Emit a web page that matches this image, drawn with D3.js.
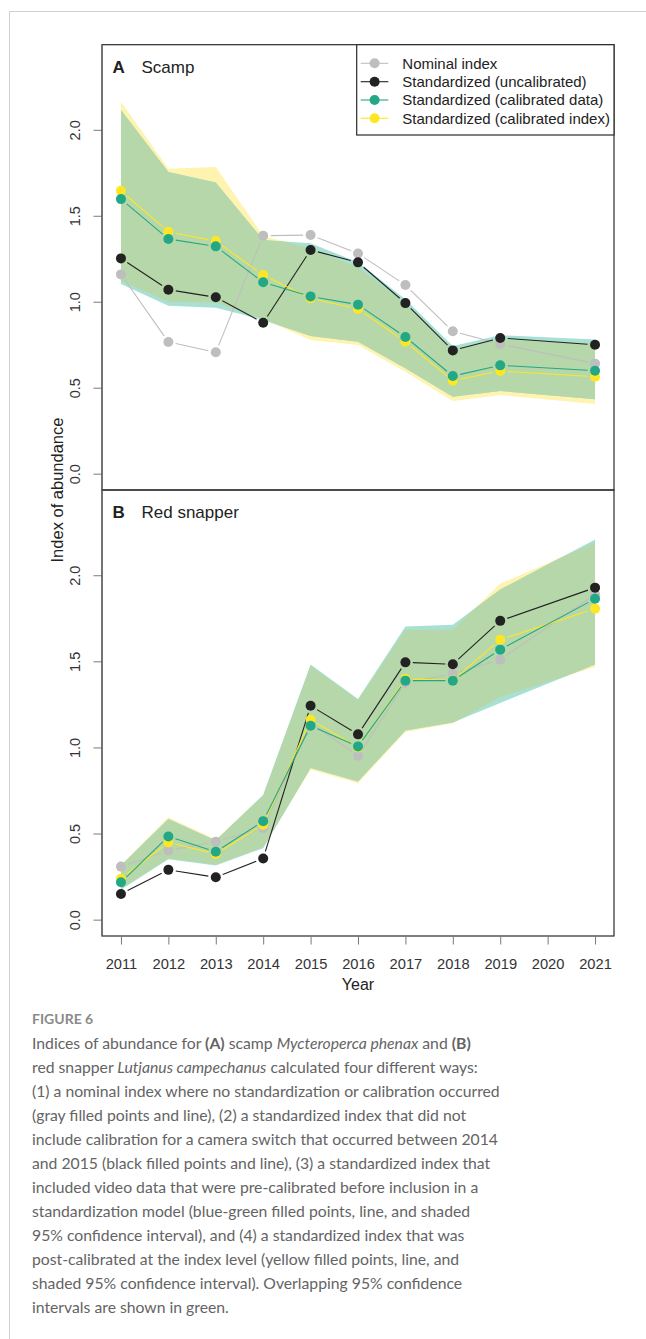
<!DOCTYPE html>
<html>
<head>
<meta charset="utf-8">
<script src="https://cdn.jsdelivr.net/npm/d3@7"></script>
<style>
  body { margin: 0; background: #fff; }
  svg { display: block; }
</style>
</head>
<body>
<svg id="fig" width="646" height="1339"></svg>
<script>
// Survey years with an index value (no survey in 2020)
const years = [2011, 2012, 2013, 2014, 2015, 2016, 2017, 2018, 2019, 2021];
const tickYears = [2011, 2012, 2013, 2014, 2015, 2016, 2017, 2018, 2019, 2020, 2021];
const yTicks = [0, 0.5, 1, 1.5, 2];

// (A) Scamp
const scampNominal    = [1.159, 0.766, 0.706, 1.384, 1.388, 1.281, 1.097, 0.828, 0.754, 0.640];
const scampUncal      = [1.252, 1.070, 1.026, 0.878, 1.301, 1.229, 0.992, 0.717, 0.789, 0.750];
const scampCalData    = [1.597, 1.365, 1.322, 1.113, 1.031, 0.983, 0.795, 0.568, 0.630, 0.599];
const scampCalIndex   = [1.645, 1.407, 1.353, 1.155, 1.020, 0.958, 0.767, 0.541, 0.597, 0.564];
const scampCalDataLo  = [1.103, 0.977, 0.965, 0.894, 0.800, 0.767, 0.613, 0.448, 0.481, 0.433];
const scampCalDataHi  = [2.115, 1.754, 1.694, 1.359, 1.340, 1.230, 1.014, 0.742, 0.805, 0.781];
const scampCalIndexLo = [1.122, 1.000, 0.994, 0.900, 0.777, 0.748, 0.593, 0.423, 0.458, 0.405];
const scampCalIndexHi = [2.163, 1.773, 1.783, 1.382, 1.310, 1.200, 0.990, 0.723, 0.781, 0.758];

// (B) Red snapper
const snapperNominal    = [0.308, 0.401, 0.453, 0.531, 1.142, 0.952, 1.374, 1.427, 1.510, 1.888];
const snapperUncal      = [0.149, 0.289, 0.246, 0.355, 1.242, 1.076, 1.494, 1.483, 1.735, 1.928];
const snapperCalData    = [0.217, 0.483, 0.394, 0.572, 1.126, 1.006, 1.388, 1.388, 1.568, 1.863];
const snapperCalIndex   = [0.237, 0.448, 0.382, 0.551, 1.161, 1.000, 1.398, 1.390, 1.626, 1.806];
const snapperCalDataLo  = [0.173, 0.351, 0.314, 0.415, 0.880, 0.802, 1.099, 1.145, 1.258, 1.481];
const snapperCalDataHi  = [0.315, 0.585, 0.460, 0.725, 1.481, 1.281, 1.703, 1.713, 1.917, 2.208];
const snapperCalIndexLo = [0.180, 0.355, 0.320, 0.420, 0.872, 0.792, 1.090, 1.140, 1.293, 1.467];
const snapperCalIndexHi = [0.318, 0.595, 0.465, 0.720, 1.475, 1.275, 1.684, 1.684, 1.950, 2.190];

const seriesNames = ["Nominal index", "Standardized (uncalibrated)",
                     "Standardized (calibrated data)", "Standardized (calibrated index)"];
const seriesColors = ["#bebebe", "#222222", "#22a884", "#fde725"];
const bandYellow = "#fff3b0", bandTeal = "#a8e1d4", bandGreen = "#b6d7a9";

const svg = d3.select("#fig");
svg.append("rect").attr("width", 646).attr("height", 1339).attr("fill", "#fff");

// page frame
svg.append("path").attr("d", "M9.5,1339 V11.5 H646")
  .attr("fill", "none").attr("stroke", "#cfcfcf").attr("stroke-width", 1);

const left = 102, right = 614;
const x = d3.scaleLinear().domain([2010.6, 2021.4]).range([left, right]);
const yDomain = [-0.095, 2.495];

const panels = [
  { letter: "A", name: "Scamp", top: 44.7, bottom: 490,
    nominal: scampNominal, uncal: scampUncal, calData: scampCalData, calIndex: scampCalIndex,
    dLo: scampCalDataLo, dHi: scampCalDataHi, iLo: scampCalIndexLo, iHi: scampCalIndexHi },
  { letter: "B", name: "Red snapper", top: 490, bottom: 936,
    nominal: snapperNominal, uncal: snapperUncal, calData: snapperCalData, calIndex: snapperCalIndex,
    dLo: snapperCalDataLo, dHi: snapperCalDataHi, iLo: snapperCalIndexLo, iHi: snapperCalIndexHi }
];

const font = "'Liberation Sans', Arial, sans-serif";
const gap = 7.5;

panels.forEach((p, pi) => {
  const y = d3.scaleLinear().domain(yDomain).range([p.bottom, p.top]);
  const g = svg.append("g");

  const area = d3.area().x(d => x(d.year)).y0(d => y(d.lo)).y1(d => y(d.hi));
  const idxBand = years.map((yr, i) => ({ year: yr, lo: p.iLo[i], hi: p.iHi[i] }));
  const datBand = years.map((yr, i) => ({ year: yr, lo: p.dLo[i], hi: p.dHi[i] }));

  const clipId = "idxclip" + pi;
  g.append("clipPath").attr("id", clipId).append("path").attr("d", area(idxBand));

  g.append("path").attr("d", area(idxBand)).attr("fill", bandYellow);
  g.append("path").attr("d", area(datBand)).attr("fill", bandTeal);
  g.append("path").attr("d", area(datBand)).attr("fill", bandGreen)
    .attr("clip-path", `url(#${clipId})`);

  // points joined by lines that stop short of each point
  const series = [p.nominal, p.uncal, p.calIndex, p.calData];
  const colors = [seriesColors[0], seriesColors[1], seriesColors[3], seriesColors[2]];
  series.forEach((vals, si) => {
    const pts = years.map((yr, i) => [x(yr), y(vals[i])]);
    const segs = d3.pairs(pts).map(([a, b]) => {
      const dx = b[0] - a[0], dy = b[1] - a[1];
      const len = Math.hypot(dx, dy);
      if (len <= 2 * gap) return null;
      const ux = dx / len, uy = dy / len;
      return [a[0] + ux * gap, a[1] + uy * gap, b[0] - ux * gap, b[1] - uy * gap];
    }).filter(Boolean);
    g.selectAll(null).data(segs).join("line")
      .attr("x1", d => d[0]).attr("y1", d => d[1])
      .attr("x2", d => d[2]).attr("y2", d => d[3])
      .attr("stroke", colors[si]).attr("stroke-width", 1.1);
    g.selectAll(null).data(pts).join("circle")
      .attr("cx", d => d[0]).attr("cy", d => d[1]).attr("r", 5)
      .attr("fill", colors[si]);
  });

  // y axis
  const yAxis = g.append("g").attr("transform", `translate(${left},0)`)
    .call(d3.axisLeft(y).tickValues(yTicks).tickFormat(d3.format(".1f")).tickSize(8.5).tickPadding(0));
  yAxis.select(".domain").remove();
  yAxis.selectAll(".tick line").attr("stroke", "#7a7a7a");
  yAxis.selectAll(".tick text")
    .attr("transform", "rotate(-90)")
    .attr("x", 0).attr("y", -22).attr("dy", 0)
    .attr("text-anchor", "middle")
    .attr("font-family", font).attr("font-size", 14.5).attr("fill", "#333");

  // panel frame
  g.append("rect").attr("x", left).attr("y", p.top)
    .attr("width", right - left).attr("height", p.bottom - p.top)
    .attr("fill", "none").attr("stroke", "#2a2a2a").attr("stroke-width", 1.2);
  g.append("line").attr("x1", left).attr("x2", left).attr("y1", p.top).attr("y2", p.bottom)
    .attr("stroke", "#6e6e6e").attr("stroke-width", 1.2);

  // panel title
  const t = g.append("text").attr("x", 112.5).attr("y", p.top + 28)
    .attr("font-family", font).attr("font-size", 17).attr("fill", "#222");
  t.append("tspan").attr("font-weight", "bold").text(p.letter);
  t.append("tspan").attr("x", 141.5).text(p.name);

  if (pi === 1) {
    const xAxis = g.append("g").attr("transform", `translate(0,${p.bottom})`)
      .call(d3.axisBottom(x).tickValues(tickYears).tickFormat(d3.format("d")).tickSize(8.5).tickPadding(14));
    xAxis.select(".domain").remove();
    xAxis.selectAll(".tick line").attr("stroke", "#7a7a7a");
    xAxis.selectAll(".tick text")
      .attr("font-family", font).attr("font-size", 14.7).attr("fill", "#333");
  }
});

// legend in panel A
const lg = svg.append("g");
lg.append("rect").attr("x", 356.7).attr("y", 44.7).attr("width", right - 356.7).attr("height", 90.3)
  .attr("fill", "#fff").attr("stroke", "#2a2a2a").attr("stroke-width", 1.2);
const lgRows = [63.3, 81.7, 100, 118.3];
seriesNames.forEach((name, i) => {
  lg.append("line").attr("x1", 360.7).attr("x2", 388.3).attr("y1", lgRows[i]).attr("y2", lgRows[i])
    .attr("stroke", seriesColors[i]).attr("stroke-width", 1.1);
  lg.append("circle").attr("cx", 374.6).attr("cy", lgRows[i]).attr("r", 5).attr("fill", seriesColors[i]);
  lg.append("text").attr("x", 402.3).attr("y", lgRows[i] + 5.4)
    .attr("font-family", font).attr("font-size", 15).attr("fill", "#222").text(name);
});

// axis titles
svg.append("text").attr("transform", "translate(63,490) rotate(-90)")
  .attr("text-anchor", "middle").attr("font-family", font).attr("font-size", 16.5)
  .attr("fill", "#222").text("Index of abundance");
svg.append("text").attr("x", 358).attr("y", 990)
  .attr("text-anchor", "middle").attr("font-family", font).attr("font-size", 16)
  .attr("fill", "#222").text("Year");

// caption
const capFont = "Lato, 'Open Sans', sans-serif";
svg.append("text").attr("x", 32).attr("y", 1024)
  .attr("font-family", capFont).attr("font-size", 14).attr("font-weight", "bold")
  .attr("fill", "#8a8a8a").text("FIGURE 6");

const captionLines = [
  [["Indices of abundance for ", ""], ["(A)", "b"], [" scamp ", ""], ["Mycteroperca phenax", "i"], [" and ", ""], ["(B)", "b"]],
  [["red snapper ", ""], ["Lutjanus campechanus", "i"], [" calculated four different ways:", ""]],
  [["(1) a nominal index where no standardization or calibration occurred", ""]],
  [["(gray filled points and line), (2) a standardized index that did not", ""]],
  [["include calibration for a camera switch that occurred between 2014", ""]],
  [["and 2015 (black filled points and line), (3) a standardized index that", ""]],
  [["included video data that were pre-calibrated before inclusion in a", ""]],
  [["standardization model (blue-green filled points, line, and shaded", ""]],
  [["95% confidence interval), and (4) a standardized index that was", ""]],
  [["post-calibrated at the index level (yellow filled points, line, and", ""]],
  [["shaded 95% confidence interval). Overlapping 95% confidence", ""]],
  [["intervals are shown in green.", ""]]
];

// size the caption so the widest full line spans the text column
const probe = svg.append("text").attr("font-family", capFont).attr("font-size", 16)
  .text(captionLines[2][0][0]);
const probeW = probe.node().getComputedTextLength();
probe.remove();
const capSize = probeW > 0 ? 16 * 468 / probeW : 16.5;

captionLines.forEach((parts, i) => {
  const t = svg.append("text").attr("x", 32).attr("y", 1048.7 + 24 * i)
    .attr("font-family", capFont).attr("font-size", capSize).attr("fill", "#646464");
  parts.forEach(([s, style]) => {
    const ts = t.append("tspan").text(s);
    if (style === "b") ts.attr("font-weight", "bold");
    if (style === "i") ts.attr("font-style", "italic");
  });
});
</script>
</body>
</html>
